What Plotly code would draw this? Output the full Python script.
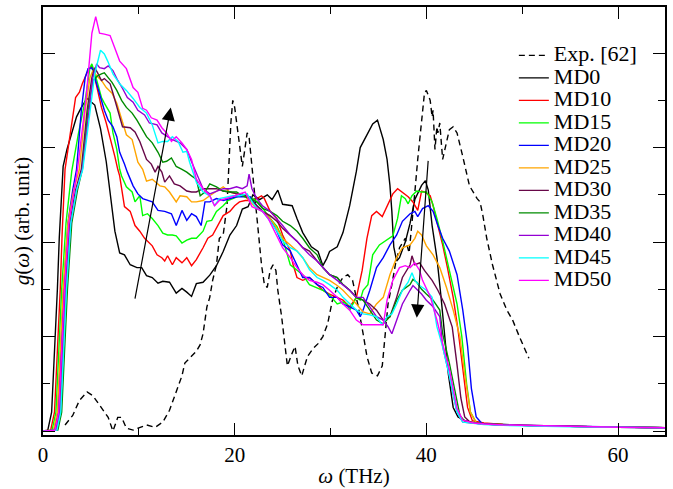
import plotly.graph_objects as go

# ---------------- data (omega in THz, g in arbitrary units) ----------------
EXP = [(2.3,0.13),(3.1,0.33),(3.8,0.65),(4.6,0.83),(5.2,0.75),(5.9,0.54),(6.8,0.29),(7.3,0.0),(7.8,0.29),
       (8.2,0.29),(8.7,0.06),(9.4,0.02),(10.1,0.08),(10.8,0.13),(11.7,0.08),(12.5,0.19),(13.2,0.44),(13.9,0.85),
       (14.5,1.17),(14.8,1.44),(15.3,1.54),(16.0,1.69),(16.4,1.83),(16.7,2.06),(17.1,2.63),(17.4,2.83),(17.7,3.19),
       (18.1,3.52),(18.4,4.08),(18.8,4.15),(19.2,4.77),(19.4,5.69),(19.6,6.52),(19.8,7.0),(20.0,6.85),(20.3,6.38),
       (20.6,5.9),(20.8,5.6),(21.1,6.02),(21.3,6.31),(21.5,6.23),(21.8,5.6),(22.1,4.98),(22.4,4.29),(22.8,3.52),
       (23.1,3.1),(23.4,3.04),(23.7,3.4),(24.0,3.52),(24.3,3.4),(24.5,2.98),(24.9,2.42),(25.2,1.85),(25.5,1.38),
       (26.0,1.65),(26.3,1.79),(26.6,1.38),(27.0,1.17),(27.3,1.38),(27.6,1.58),(28.2,1.75),(28.7,1.85),(29.2,2.0),
       (29.7,2.27),(30.2,2.77),(30.8,3.1),(31.3,3.25),(31.8,3.31),(32.3,3.19),(32.9,2.63),(33.4,2.06),(33.8,1.58),
       (34.3,1.23),(34.9,1.17),(35.4,1.38),(35.7,2.0),(36.0,2.69),(36.4,3.1),(36.8,3.56),(37.2,3.88),(37.8,4.08),
       (38.2,3.77),(38.5,4.5),(38.8,5.06),(39.1,5.75),(39.5,6.58),(39.8,7.15),(40.0,7.21),(40.4,7.0),(40.6,6.65),
       (40.7,6.79),(40.9,5.96),(41.1,6.44),(41.2,6.31),(41.4,6.52),(41.7,5.75),(42.1,6.1),(42.4,6.38),(42.8,6.44),
       (43.2,6.31),(43.8,5.81),(44.5,5.19),(45.3,4.92),(45.6,4.85),(45.9,4.56),(46.3,4.08),(46.9,3.52),(47.7,2.9),
       (48.4,2.56),(49.0,2.35),(49.7,2.0),(50.3,1.73),(50.7,1.54)]

MD0 = [(0,0),(0.5,0.02),(0.9,0.4),(1.2,1.65),(1.5,3.0),(1.7,4.1),(2.1,5.6),(2.5,5.96),(3.0,6.3),(3.5,6.65),
       (4.0,6.85),(4.6,7.04),(5.4,6.9),(6.0,6.4),(6.6,5.7),(7.2,4.7),(7.5,4.23),(8.0,3.77),(8.5,3.73),(9.1,3.52),
       (9.8,3.46),(10.3,3.46),(10.8,3.29),(11.4,3.25),(12.0,3.13),(12.5,3.17),(13.2,3.15),(13.9,2.92),(14.5,3.02),
       (15.0,2.94),(15.5,2.85),(16.0,3.12),(16.7,3.15),(17.4,3.3),(18.1,3.5),(18.8,3.8),(19.5,4.15),(20.2,4.35),
       (20.8,4.7),(21.4,4.75),(21.9,5.0),(22.6,4.9),(23.4,5.0),(23.9,4.9),(24.5,5.1),(25.0,4.8),(26.0,4.77),
       (26.5,4.5),(27.1,4.2),(28.0,3.9),(28.7,3.8),(29.2,3.5),(29.6,3.65),(29.9,3.8),(30.7,3.9),(31.3,4.2),
       (32.0,4.77),(32.7,5.5),(33.1,6.0),(33.8,6.27),(34.1,6.37),(34.4,6.5),(34.9,6.58),(35.5,6.17),(35.9,5.75),
       (36.2,5.2),(36.4,4.65),(36.6,3.9),(36.9,3.6),(37.2,3.67),(37.8,4.0),(38.3,4.4),(38.8,4.9),(39.5,5.2),
       (39.9,5.3),(40.2,5.1),(40.6,4.35),(41.1,3.67),(41.5,2.9),(42.0,1.8),(42.3,1.2),(42.8,0.5),(43.3,0.3),
       (44.0,0.22),(45.0,0.18),(46,0.16),(48,0.14),(50,0.12),(55,0.1),(60,0.08),(65,0.07)]

MD10 = [(0,0),(0.8,0.02),(1.2,0.4),(1.5,1.6),(1.8,3.0),(2.0,4.2),(2.3,5.54),(2.8,6.23),(3.4,7.06),(3.8,7.17),
        (4.1,7.35),(4.7,7.63),(5.1,7.73),(5.4,7.48),(5.7,7.21),(6.1,6.85),(6.6,6.52),(7.0,6.23),(7.5,5.81),
        (7.8,5.54),(8.0,5.4),(8.5,4.75),(9.1,4.65),(9.6,4.35),(10.1,4.23),(10.6,4.08),(11.4,3.92),(11.9,3.73),
        (12.4,3.67),(12.7,3.6),(13.0,3.71),(13.5,3.52),(13.9,3.67),(14.5,3.56),(15.0,3.67),(15.5,3.5),(16.0,3.63),
        (16.7,3.88),(17.2,4.08),(17.7,4.15),(18.2,4.35),(18.8,4.56),(19.5,4.65),(20.0,4.77),(20.5,4.85),(21.1,4.88),
        (21.6,4.88),(22.3,4.92),(22.8,4.98),(23.1,4.92),(23.7,4.65),(24.4,4.5),(25.0,4.15),(25.8,3.81),(26.1,3.52),
        (26.5,3.25),(27.1,3.19),(27.8,3.25),(28.6,3.1),(29.2,2.98),(29.9,2.9),(30.7,2.83),(31.3,2.77),(32.0,2.63),
        (32.7,2.83),(33.3,3.4),(33.8,4.08),(34.3,4.56),(34.8,4.65),(35.4,4.54),(36.0,4.81),(36.5,5.02),(37.0,5.13),
        (37.5,5.06),(38.1,4.96),(38.6,4.85),(39.1,4.67),(39.5,5.08),(39.8,5.06),(40.4,4.98),(40.7,4.77),(41.2,4.35),
        (41.7,3.94),(42.2,3.46),(42.8,2.83),(43.3,2.15),(43.8,1.3),(44.3,0.5),(44.8,0.22),(46,0.17),(48,0.14),
        (50,0.12),(55,0.1),(60,0.08),(65,0.07)]

MD15 = [(0,0),(0.95,0.02),(1.35,0.4),(1.65,1.6),(1.95,3.0),(2.4,4.4),(3.0,5.5),(3.7,6.3),(4.4,7.0),(4.9,7.69),
        (5.1,7.77),(5.4,7.58),(5.7,7.35),(6.1,7.06),(6.4,6.94),(7.0,6.73),(7.3,6.31),(7.7,5.96),(8.0,5.54),
        (8.2,5.4),(8.7,5.17),(9.3,5.06),(9.6,4.85),(10.1,4.98),(10.4,4.56),(10.9,4.6),(11.4,4.5),(12.0,4.35),
        (12.5,4.19),(13.0,4.15),(13.5,4.15),(13.9,4.13),(14.5,3.98),(15.0,4.04),(15.5,4.08),(16.0,4.08),(16.7,4.23),
        (17.1,4.44),(17.6,4.46),(18.1,4.65),(18.8,4.77),(19.3,4.88),(19.8,4.92),(20.5,4.98),(21.3,4.98),(21.9,4.92),
        (22.6,4.81),(23.7,4.5),(24.4,4.33),(25.0,4.08),(25.8,3.52),(26.5,3.4),(27.1,3.31),(27.8,3.1),(28.6,3.04),
        (29.2,2.98),(29.9,2.88),(30.7,2.69),(31.3,2.73),(31.7,2.69),(32.0,2.56),(32.7,2.83),(33.1,2.77),(33.4,2.98),
        (33.9,3.1),(34.4,3.73),(35.1,3.94),(35.9,4.04),(36.5,4.13),(37.0,4.5),(37.4,4.98),(37.8,4.92),(38.1,4.81),
        (38.5,4.98),(39.0,5.08),(39.5,5.06),(40.0,5.06),(40.6,4.85),(41.1,4.5),(41.7,4.02),(42.4,3.4),(43.2,2.69),
        (43.7,2.0),(44.2,1.0),(44.6,0.4),(45.2,0.18),(46,0.15),(48,0.13),(50,0.12),(55,0.1),(60,0.08),(65,0.07)]

MD20 = [(0,0),(1.15,0.02),(1.55,0.4),(1.85,1.6),(2.15,3.0),(2.6,4.4),(3.1,5.1),(3.5,5.54),(4.0,6.79),(4.4,7.48),
        (4.7,7.67),(5.1,7.69),(5.4,7.48),(5.9,7.15),(6.4,6.79),(6.8,6.58),(7.3,6.44),(7.7,6.23),(8.0,5.9),(8.5,5.65),
        (8.8,5.48),(9.4,5.19),(9.9,5.02),(10.4,4.92),(10.9,4.88),(11.4,4.85),(12.0,4.67),(12.7,4.65),(13.4,4.6),
        (13.9,4.35),(14.5,4.67),(15.0,4.46),(15.5,4.6),(16.0,4.54),(16.5,4.35),(16.9,4.85),(17.4,4.85),(18.1,4.92),
        (18.8,4.88),(19.5,4.92),(20.2,4.96),(20.8,4.96),(21.6,4.96),(22.3,4.77),(22.9,4.65),(23.7,4.5),(24.4,4.23),
        (25.0,3.94),(25.8,3.81),(26.5,3.52),(27.1,3.25),(27.8,3.25),(28.6,3.1),(29.2,3.04),(29.9,2.83),(30.7,2.83),
        (31.3,2.69),(32.0,2.63),(32.7,2.56),(33.1,2.42),(33.4,2.56),(34.1,2.98),(34.8,3.46),(35.5,3.67),(36.2,3.94),
        (36.9,4.15),(37.5,4.44),(38.3,4.6),(38.8,4.65),(39.1,4.54),(39.6,4.71),(40.2,4.77),(40.7,4.65),(41.2,4.35),
        (41.7,4.08),(42.4,3.81),(43.2,3.31),(43.8,2.56),(44.3,1.8),(44.7,0.9),(45.2,0.3),(45.8,0.16),(48,0.13),
        (50,0.12),(55,0.1),(60,0.08),(65,0.07)]

MD25 = [(0,0),(1.1,0.02),(1.5,0.4),(1.8,1.6),(2.1,3.0),(2.6,4.4),(3.2,5.1),(3.8,5.54),(4.4,6.79),(4.9,7.48),
        (5.2,7.63),(5.6,7.52),(6.1,7.42),(6.6,7.27),(7.2,7.15),(7.7,6.94),(8.2,6.58),(8.7,6.27),(9.3,6.17),(9.6,5.9),
        (9.9,5.69),(10.4,5.54),(10.8,5.29),(11.4,5.33),(12.2,5.19),(12.7,5.17),(13.2,5.06),(13.9,4.85),(14.3,4.98),
        (15.0,4.96),(15.5,4.85),(16.0,4.85),(16.7,4.88),(17.4,4.98),(18.1,5.08),(18.8,5.17),(19.5,5.06),(20.2,5.02),
        (20.8,5.02),(21.6,4.85),(22.3,4.71),(22.9,4.65),(23.7,4.5),(24.4,4.29),(25.0,4.08),(25.8,3.94),(26.5,3.81),
        (27.1,3.67),(27.8,3.46),(28.6,3.31),(29.2,3.25),(29.9,3.19),(30.7,3.08),(31.3,2.98),(32.0,2.83),(32.7,2.69),
        (33.4,2.52),(34.1,2.48),(34.8,2.69),(35.5,2.83),(36.2,3.31),(36.9,3.67),(37.5,3.88),(38.3,3.94),(38.8,4.08),
        (39.1,4.23),(39.5,4.15),(40.0,3.92),(40.7,3.73),(41.4,3.46),(42.1,3.04),(42.8,2.56),(43.5,2.0),(44.0,1.2),
        (44.6,0.4),(45.2,0.18),(46,0.15),(48,0.13),(50,0.12),(55,0.1),(60,0.08),(65,0.07)]

MD30 = [(0,0),(1.3,0.02),(1.7,0.4),(2.0,1.6),(2.3,3.0),(2.8,4.4),(3.4,5.1),(4.0,5.54),(4.6,6.79),(5.1,7.48),
        (5.4,7.69),(5.7,7.58),(6.1,7.42),(6.4,7.46),(7.0,7.35),(7.3,7.15),(7.8,6.79),(8.3,6.44),(9.1,6.42),(9.6,6.33),
        (10.1,6.13),(10.8,5.75),(11.3,5.65),(11.7,5.48),(12.0,5.6),(12.4,5.48),(12.7,5.27),(13.2,5.4),(13.7,5.23),
        (14.3,5.19),(15.0,5.08),(15.5,5.06),(16.0,5.06),(16.7,5.13),(17.4,5.13),(18.1,5.13),(18.8,5.08),(19.5,5.06),
        (20.2,5.02),(20.8,5.02),(21.6,4.92),(22.3,4.77),(22.9,4.65),(23.7,4.56),(24.4,4.44),(25.0,4.29),(25.8,4.15),
        (26.5,4.02),(27.1,3.88),(27.8,3.81),(28.6,3.6),(29.2,3.46),(29.9,3.31),(30.7,3.25),(31.3,3.1),(32.0,2.98),
        (32.7,2.83),(33.4,2.77),(34.1,2.69),(34.8,2.56),(35.5,2.35),(36.2,2.42),(36.9,2.83),(37.5,3.25),(38.3,3.52),
        (38.5,3.71),(38.8,3.52),(39.3,3.56),(39.8,3.4),(40.6,3.19),(41.2,2.98),(41.9,2.69),(42.7,2.2),(43.2,1.4),
        (43.6,0.7),(44.0,0.3),(44.6,0.18),(46,0.15),(48,0.13),(50,0.12),(55,0.1),(60,0.08),(65,0.07)]

MD35 = [(0,0),(1.55,0.02),(1.95,0.4),(2.25,1.6),(2.55,3.0),(3.0,4.4),(3.6,5.1),(4.1,5.54),(4.7,6.79),(5.2,7.42),
        (5.7,7.52),(6.1,7.56),(6.4,7.58),(6.8,7.48),(7.2,7.38),(7.7,7.21),(8.2,7.0),(8.7,6.85),(9.3,6.73),(9.8,6.58),
        (10.4,6.38),(10.8,6.23),(11.4,6.1),(12.0,5.9),(12.5,5.69),(12.9,5.71),(13.4,5.78),(13.9,5.6),(14.5,5.54),
        (15.0,5.48),(15.5,5.4),(16.0,5.33),(16.4,4.98),(16.9,5.06),(17.4,5.23),(18.1,5.17),(18.8,5.08),(19.5,5.06),
        (20.2,5.06),(20.8,4.98),(21.6,4.92),(22.3,4.85),(22.9,4.71),(23.7,4.65),(24.4,4.56),(25.0,4.44),(25.8,4.35),
        (26.5,4.23),(27.1,4.08),(27.8,3.88),(28.6,3.73),(29.2,3.46),(29.9,3.31),(30.7,3.25),(31.3,3.1),(32.0,2.98),
        (32.7,2.83),(33.4,2.77),(34.1,2.56),(34.8,2.35),(35.5,2.27),(36.2,2.42),(36.9,2.77),(37.5,2.98),(38.3,3.1),
        (38.6,3.21),(39.0,3.15),(39.5,3.0),(40.0,2.9),(40.7,2.77),(41.4,2.56),(41.7,2.06),(42.4,1.44),(43.0,0.81),
        (43.5,0.33),(44.1,0.19),(46,0.15),(48,0.13),(50,0.12),(55,0.1),(60,0.08),(65,0.07)]

MD40 = [(0,0),(1.4,0.02),(1.8,0.4),(2.1,1.6),(2.4,3.0),(2.9,4.4),(3.5,5.1),(4.1,5.54),(4.7,6.65),(5.2,7.48),
        (5.6,7.77),(5.9,7.69),(6.4,7.67),(6.8,7.73),(7.3,7.63),(7.8,7.42),(8.3,7.25),(8.8,7.06),(9.4,6.96),(9.9,6.79),
        (10.6,6.69),(11.1,6.52),(11.9,6.48),(12.4,6.31),(13.0,6.23),(13.5,6.17),(14.3,6.1),(15.0,5.96),(15.5,5.7),
        (16.0,5.45),(16.7,5.13),(17.4,5.02),(18.1,5.08),(18.8,5.13),(19.5,5.13),(20.2,5.17),(20.8,5.13),(21.3,5.19),
        (21.5,5.44),(21.8,5.13),(22.3,4.92),(22.9,4.77),(23.7,4.65),(24.4,4.5),(25.0,4.35),(25.8,4.15),(26.5,4.02),
        (27.1,3.88),(27.8,3.73),(28.6,3.6),(29.2,3.46),(29.9,3.31),(30.7,3.19),(31.3,3.1),(32.0,2.98),(32.7,2.83),
        (33.4,2.83),(34.1,2.63),(34.8,2.42),(35.5,2.35),(36.0,2.21),(36.4,2.06),(36.9,2.35),(37.5,2.69),(38.3,2.98),
        (38.6,3.08),(39.0,3.0),(39.5,2.9),(40.0,2.77),(40.7,2.63),(41.4,2.42),(41.7,1.79),(42.4,1.17),(43.2,0.4),
        (43.8,0.19),(46,0.15),(48,0.13),(50,0.12),(55,0.1),(60,0.08),(65,0.07)]

MD45 = [(0,0),(1.45,0.02),(1.85,0.4),(2.15,1.6),(2.45,3.0),(2.9,4.4),(3.5,5.1),(4.15,5.54),(4.9,6.79),(5.4,7.56),
        (6.0,8.06),(6.4,7.98),(6.75,7.83),(7.3,7.56),(8.0,7.35),(8.7,7.21),(9.4,7.04),(10.1,6.85),(10.8,6.73),
        (11.4,6.48),(12.0,6.1),(12.5,6.13),(13.0,6.13),(13.5,6.23),(14.1,6.13),(14.6,5.9),(15.0,5.92),(15.3,5.69),
        (16.0,5.27),(16.7,5.06),(17.4,4.98),(17.9,4.77),(18.4,4.92),(19.2,4.96),(19.8,4.98),(20.5,4.98),(21.3,5.02),
        (21.6,4.92),(22.3,4.71),(22.9,4.65),(23.7,4.44),(24.4,4.23),(25.0,4.02),(25.8,3.88),(26.5,3.81),(27.1,3.67),
        (27.8,3.42),(28.6,3.25),(29.2,3.19),(29.9,3.1),(30.7,2.98),(31.3,2.83),(32.0,2.69),(32.7,2.56),(33.4,2.48),
        (34.1,2.46),(34.8,2.42),(35.4,2.25),(35.9,2.42),(36.4,2.48),(36.9,2.69),(37.5,2.98),(38.1,3.15),(38.5,3.35),
        (38.8,3.19),(39.3,3.08),(40.0,2.98),(40.6,2.83),(41.1,2.21),(41.7,1.79),(42.4,1.17),(43.2,0.4),(43.8,0.19),
        (46,0.14),(48,0.12),(50,0.11),(55,0.09),(60,0.08),(65,0.07)]

MD50 = [(0,0),(1.25,0.02),(1.65,0.4),(1.95,1.6),(2.25,3.0),(2.7,4.4),(3.2,5.0),(3.6,5.54),(4.5,7.06),(5.1,8.42),
        (5.5,8.77),(5.9,8.42),(6.4,8.4),(7.0,8.37),(7.5,8.1),(8.0,7.83),(8.7,7.67),(9.4,7.27),(9.9,7.17),(10.4,6.83),
        (10.8,6.79),(11.3,6.63),(11.9,6.58),(12.4,6.42),(12.9,6.31),(13.4,6.13),(13.9,6.23),(14.5,6.1),(15.0,5.96),
        (15.5,5.75),(16.0,5.33),(16.7,5.13),(17.4,4.98),(17.9,4.77),(18.4,4.88),(19.2,4.92),(19.8,4.96),(20.5,5.02),
        (21.1,5.06),(21.8,4.75),(22.3,4.71),(22.9,4.65),(23.5,4.5),(24.0,4.29),(24.5,4.08),(25.0,3.88),(25.8,3.67),
        (26.5,3.46),(27.1,3.31),(27.8,3.19),(28.6,3.15),(29.2,3.1),(29.9,2.98),(30.7,2.83),(31.3,2.69),(32.0,2.56),
        (32.7,2.35),(33.4,2.25),(34.1,2.25),(35.1,2.25),(35.5,2.25),(35.9,2.77),(36.5,3.19),(37.2,3.46),(37.8,3.5),
        (38.3,3.46),(38.8,3.56),(39.3,3.4),(39.6,3.19),(40.4,2.85),(41.1,2.35),(41.7,1.85),(42.4,1.31),(43.2,0.48),
        (43.8,0.23),(44.9,0.17),(46,0.15),(48,0.13),(50,0.12),(55,0.1),(60,0.08),(65,0.07)]

SERIES = [
    ("Exp. [62]", EXP, "#000000", "6px,4px"),
    ("MD0", MD0, "#000000", "solid"),
    ("MD10", MD10, "#ff0000", "solid"),
    ("MD15", MD15, "#00ff00", "solid"),
    ("MD20", MD20, "#0000ff", "solid"),
    ("MD25", MD25, "#ffa500", "solid"),
    ("MD30", MD30, "#670748", "solid"),
    ("MD35", MD35, "#008b00", "solid"),
    ("MD40", MD40, "#9400d3", "solid"),
    ("MD45", MD45, "#00ffff", "solid"),
    ("MD50", MD50, "#ff00ff", "solid"),
]

X_TICKS = [0, 20, 40, 60]
FONT = "Liberation Serif"

fig = go.Figure()
for name, pts, color, dash in SERIES:
    fig.add_trace(go.Scatter(
        x=[p[0] for p in pts], y=[p[1] for p in pts], mode="lines",
        name="<span style='font-size:22px'>%s</span>" % name,
        line=dict(color=color, width=1.4, dash=dash),
    ))

axis_common = dict(showline=True, linecolor="black", linewidth=1.7, mirror="ticks",
                   ticks="inside", tickcolor="black", tickwidth=1.2, ticklen=12,
                   showgrid=False, zeroline=False)

fig.update_xaxes(range=[0, 64.9], tickmode="array", tickvals=X_TICKS,
                 ticktext=[str(v) for v in X_TICKS],
                 minor=dict(dtick=10, tick0=0, ticks="inside", ticklen=7, tickcolor="black", tickwidth=1.2),
                 tickfont=dict(family=FONT, size=21, color="black"),
                 title=dict(text="<i>ω</i> (THz)", font=dict(family=FONT, size=21, color="black"), standoff=2),
                 **axis_common)
fig.update_yaxes(range=[-0.083, 8.975], tick0=0, dtick=2, showticklabels=False,
                 minor=dict(dtick=1, tick0=0, ticks="inside", ticklen=7, tickcolor="black", tickwidth=1.2),
                 title=dict(text="<i>g</i>(<i>ω</i>) (arb. unit)", font=dict(family=FONT, size=21, color="black"),
                            standoff=6),
                 **axis_common)

# arrows indicating the trend with increasing MD
fig.add_annotation(x=13.33, y=6.85, ax=9.57, ay=2.77, xref="x", yref="y", axref="x", ayref="y",
                   showarrow=True, arrowhead=2, arrowsize=2.2, arrowwidth=1.2, arrowcolor="black", text="")
fig.add_annotation(x=39.0, y=2.4, ax=40.2, ay=5.75, xref="x", yref="y", axref="x", ayref="y",
                   showarrow=True, arrowhead=2, arrowsize=2.2, arrowwidth=1.2, arrowcolor="black", text="")

fig.update_layout(
    width=673, height=489,
    margin=dict(l=43, r=8, t=5, b=49),
    paper_bgcolor="white", plot_bgcolor="white",
    font=dict(family=FONT, color="black"),
    showlegend=True,
    legend=dict(x=0.757, y=0.925, xanchor="left", yanchor="top", bgcolor="rgba(0,0,0,0)",
                font=dict(family=FONT, size=15, color="black"), itemwidth=30, tracegroupgap=0),
)

fig.write_html("out.html", config={"displayModeBar": False},
               post_script="document.body.style.margin='0px';document.body.style.padding='0px';")
